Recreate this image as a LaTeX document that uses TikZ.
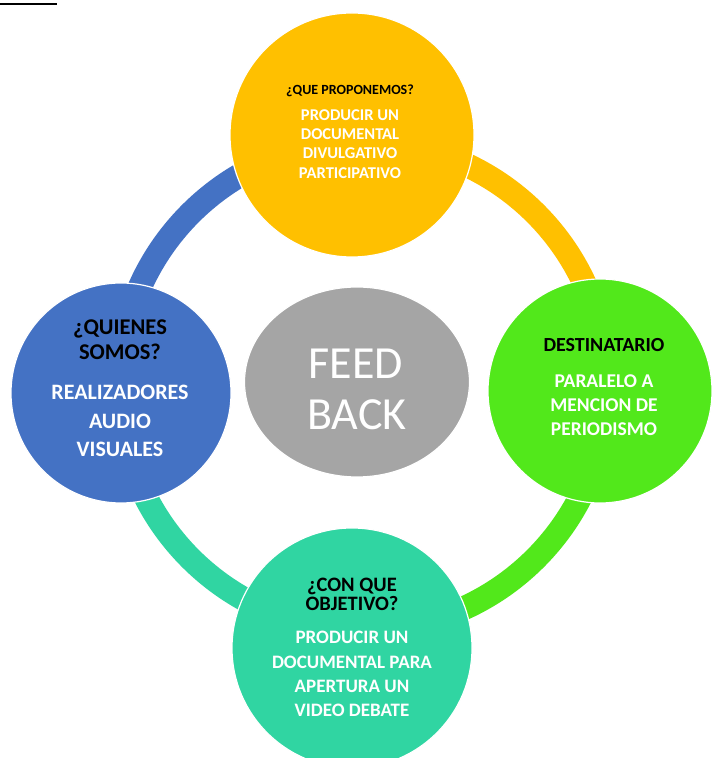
\documentclass[tikz,border=0pt]{standalone}
\usepackage{fontspec}
\setmainfont{Carlito}
\usetikzlibrary{shapes.geometric}
\definecolor{cyellow}{HTML}{FFC000}
\definecolor{cgreen}{HTML}{52E81B}
\definecolor{cteal}{HTML}{30D5A2}
\definecolor{cblue}{HTML}{4472C4}
\definecolor{cgray}{HTML}{A5A5A5}
\tikzset{
  ringarc/.style={line width=24pt},
  bub/.style={circle, draw=white, line width=1.2pt, inner sep=0pt},
  ttl/.style={anchor=base, text=black, inner sep=0pt},
  bod/.style={anchor=base, text=white, inner sep=0pt},
}
\begin{document}
\begin{tikzpicture}[x=1pt,y=1pt]
\useasboundingbox (0,0) rectangle (712,758);
\fill[white] (0,0) rectangle (712,758);
% small rule top-left
\coordinate (la) at (0,754);
\coordinate (lb) at (57,754);
\draw[line width=2.5pt, black] (la) -- (lb);
% ring
\coordinate (rc) at (363,372);
\draw[ringarc, cblue]  ([shift={(180:244)}]rc) arc[start angle=180, end angle=90, radius=244];
\draw[ringarc, cyellow]([shift={(90:244)}]rc) arc[start angle=90, end angle=0, radius=244];
\draw[ringarc, cgreen] ([shift={(0:244)}]rc) arc[start angle=0, end angle=-90, radius=244];
\draw[ringarc, cteal]  ([shift={(-90:244)}]rc) arc[start angle=-90, end angle=-180, radius=244];
% bubbles
\node[bub, fill=cyellow, minimum size=244pt] (qtop) at (352,623) {};
\node[bub, fill=cgreen, minimum size=224pt] (qright) at (600,367) {};
\node[bub, fill=cteal, minimum size=240pt] (qbot) at (352,110) {};
\node[bub, fill=cblue, minimum size=220pt] (qleft) at (121,365) {};
\node[ellipse, draw=white, line width=1.2pt, inner sep=0pt, fill=cgray, minimum width=225pt, minimum height=190pt] (fb) at (357,376) {};
% top texts
\node[ttl, font=\fontsize{14}{16}\selectfont\bfseries] (t0) at (350,663.7) {¿QUE PROPONEMOS?};
\foreach \s/\y [count=\i] in {PRODUCIR UN/637.5, DOCUMENTAL/618.3, DIVULGATIVO/599.1, PARTICIPATIVO/579.9}
  \node[bod, font=\fontsize{16.5}{18}\selectfont\bfseries] (t\i) at (350,\y) {\s};
% right texts
\node[ttl, font=\fontsize{20}{22}\selectfont\bfseries] (r0) at (604,406.3) {DESTINATARIO};
\foreach \s/\y [count=\i] in {PARALELO A/370.7, MENCION DE/346.4, PERIODISMO/322.1}
  \node[bod, font=\fontsize{19.5}{22}\selectfont\bfseries] (r\i) at (604,\y) {\s};
% left texts
\node[ttl, font=\fontsize{22.5}{24}\selectfont\bfseries] (l0) at (120,423) {¿QUIENES};
\node[ttl, font=\fontsize{22.5}{24}\selectfont\bfseries] (l00) at (120,398) {SOMOS?};
\foreach \s/\y [count=\i] in {REALIZADORES/358, AUDIO/329.7, VISUALES/301.4}
  \node[bod, font=\fontsize{22}{24}\selectfont\bfseries] (l\i) at (120,\y) {\s};
% bottom texts
\node[ttl, font=\fontsize{20.5}{22}\selectfont\bfseries] (b0) at (352,166.3) {¿CON QUE};
\node[ttl, font=\fontsize{20.5}{22}\selectfont\bfseries] (b00) at (352,147.3) {OBJETIVO?};
\foreach \s/\y [count=\i] in {PRODUCIR UN/114, DOCUMENTAL PARA/89.7, APERTURA UN/65.4, VIDEO DEBATE/41.1}
  \node[bod, font=\fontsize{19}{21}\selectfont\bfseries] (b\i) at (352,\y) {\s};
% center texts
\node[bod, font=\fontsize{46}{50}\selectfont] (c1) at (356,379.7) {FEED};
\node[bod, font=\fontsize{46}{50}\selectfont] (c2) at (357,328) {BACK};
\end{tikzpicture}
\end{document}
